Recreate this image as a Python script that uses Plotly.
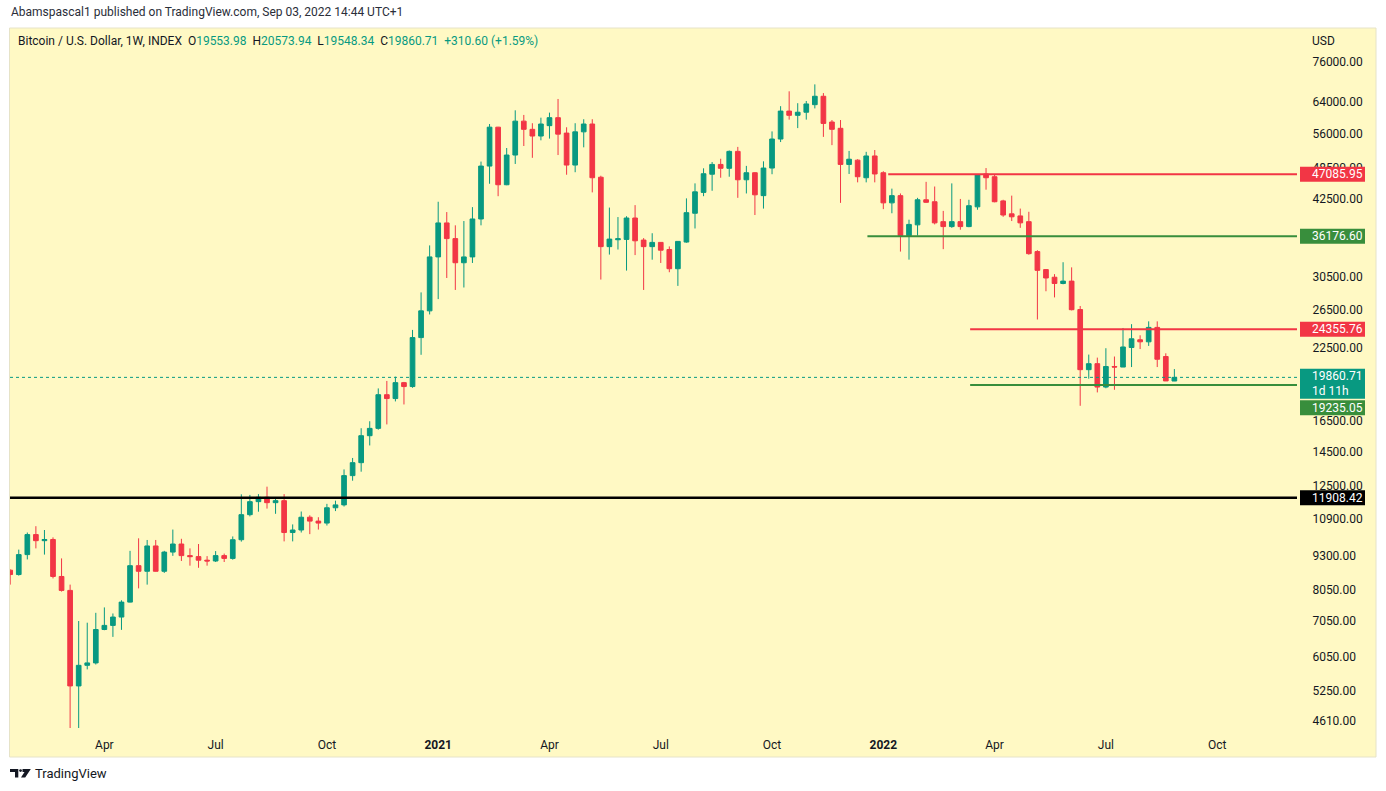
import math
import pandas as pd
import plotly.graph_objects as go

# ---------------- data (weekly BTCUSD) ----------------
week_start = "2020-01-20"
opens = [8750, 8590, 9350, 10180, 9920, 9970, 8520, 8030, 5350, 5840,
         5900, 6800, 6920, 7170, 7640, 8920, 8710, 9700, 8710, 9450,
         9780, 9310, 9270, 9130, 9100, 9310, 9200, 9960, 11080, 11710,
         11930, 11660, 11760, 10270, 10380, 10960, 10780, 10690, 11410, 11550,
         13080, 13820, 15500, 15990, 18450, 18150, 19420, 19100, 23520, 26350,
         33140, 38290, 35820, 32330, 33140, 38940, 48760, 57530, 45040, 51100,
         59020, 57000, 55400, 57900, 59900, 56100, 48970, 56400, 58300, 46500,
         34620, 35650, 35700, 39100, 35600, 34620, 35250, 34200, 31520, 35300,
         39900, 43600, 47100, 49100, 48300, 51900, 46000, 47400, 43000, 48350,
         54700, 61600, 60500, 61300, 63300, 65600, 58800, 57250, 49100, 50000,
         46400, 50900, 47400, 41700, 43000, 36280, 37980, 42250, 41900, 38500,
         37700, 38500, 37700, 41000, 47150, 46600, 42050, 39800, 39450, 38500,
         33900, 31400, 30400, 29600, 29900, 26500, 20520, 21050, 19060, 20800,
         20750, 22550, 23300, 23100, 24560, 21700, 19553.98]
highs = [8780, 9550, 10270, 10550, 10380, 10060, 9200, 8230, 7050, 7000,
         7300, 7470, 7280, 7700, 9500, 10020, 9950, 9950, 9500, 10400,
         10000, 9600, 9780, 9290, 9490, 9390, 10100, 12080, 12050, 12090,
         12480, 11860, 12090, 10630, 11230, 11050, 10960, 11600, 11760, 13430,
         14100, 16000, 16480, 18950, 19560, 19920, 19480, 24300, 28500, 34800,
         41900, 40100, 37900, 38600, 40950, 49700, 58300, 57600, 52650, 61800,
         60600, 58500, 59900, 61200, 64850, 57500, 58500, 59500, 59500, 46800,
         40870, 39260, 39400, 41300, 35900, 36650, 35300, 34650, 35450, 42500,
         45300, 48300, 49600, 50300, 52100, 52900, 48800, 47500, 49750, 56500,
         62900, 67000, 63700, 64300, 69000, 66500, 59300, 59300, 52000, 50200,
         51800, 52200, 47700, 44300, 43400, 38820, 42600, 45600, 44700, 40300,
         45300, 42400, 42250, 47100, 48350, 47000, 42250, 43000, 40700, 40150,
         34100, 31450, 30800, 32400, 31700, 26900, 21880, 21600, 22480, 21700,
         24500, 24900, 23750, 25200, 25200, 22000, 20573.94]
lows = [8230, 8550, 9160, 9600, 9350, 8450, 7990, 3850, 4400, 5740,
        5860, 6780, 6590, 6790, 7630, 8100, 8230, 8700, 8650, 9300,
        9100, 8920, 8840, 8920, 9060, 9060, 9150, 9880, 11000, 11220,
        11370, 11120, 9890, 9890, 10270, 10200, 10400, 10580, 11250, 11470,
        12800, 13300, 14870, 15900, 16260, 17930, 17700, 19000, 21860, 25950,
        27700, 30300, 28800, 29100, 32300, 37900, 45230, 42900, 44950, 49200,
        53100, 50500, 54400, 54800, 51100, 47000, 47500, 52800, 43600, 30100,
        33470, 34200, 31270, 33400, 28800, 32750, 32300, 31050, 29300, 35200,
        37400, 42900, 43900, 46400, 46600, 42600, 43400, 39600, 40700, 47100,
        54000, 59400, 57300, 59400, 62300, 55200, 53300, 41700, 47150, 45500,
        45500, 45500, 40600, 39900, 33900, 32760, 36280, 41700, 38050, 34250,
        37500, 37200, 37600, 40500, 44100, 41800, 39300, 38600, 37500, 33450,
        25400, 28640, 27900, 29500, 26400, 17600, 19750, 18630, 18960, 18840,
        20750, 20750, 22400, 22700, 20750, 19560, 19548.34]
closes = [8590, 9350, 10180, 9920, 9970, 8520, 8030, 5350, 5840, 5900,
          6800, 6920, 7170, 7640, 8920, 8710, 9700, 8710, 9450, 9780,
          9310, 9270, 9130, 9100, 9310, 9200, 9960, 11080, 11710, 11930,
          11660, 11760, 10270, 10380, 10960, 10780, 10690, 11410, 11550, 13080,
          13820, 15500, 15990, 18450, 18150, 19420, 19100, 23520, 26350, 33140,
          38290, 35820, 32330, 33140, 38940, 48760, 57530, 45040, 51100, 59020,
          57000, 55400, 58300, 59900, 55850, 48970, 56400, 58300, 46400, 34620,
          35750, 35800, 39100, 35490, 34620, 35250, 34100, 31520, 35400, 40000,
          43700, 47200, 49100, 48300, 51900, 46000, 47400, 43150, 48350, 54700,
          61600, 60500, 61300, 63500, 65600, 58450, 57000, 49100, 50200, 46600,
          50900, 47150, 41700, 43000, 36280, 38050, 42250, 41800, 38300, 37700,
          38500, 37700, 41200, 46950, 46400, 41900, 39600, 39300, 38300, 33600,
          31300, 30300, 29600, 29900, 26480, 20520, 21050, 19060, 20800, 20750,
          22600, 23400, 23100, 24560, 21450, 19560, 19860.71]
dates = pd.date_range(week_start, periods=len(closes), freq="W-MON")

change_abs = 310.60
change_pct = 1.59

level_prices = [47085.95, 36176.60, 24355.76, 19235.05, 11908.42]
level_starts = ["2022-01-07", "2021-12-21", "2022-03-15", "2022-03-15", "2020-01-19T20:00"]
last_price = 19860.71
time_left = "1d 11h"

y_tick_vals = [4610, 5250, 6050, 7050, 8050, 9300, 10900, 12500, 14500, 16500,
               22500, 26500, 30500, 42500, 48500, 56000, 64000, 76000]
x_tick_vals = ["2020-04-06", "2020-07-06", "2020-10-05", "2021-01-04", "2021-04-05",
               "2021-07-05", "2021-10-04", "2022-01-03", "2022-04-04", "2022-07-04",
               "2022-10-03"]
x_tick_text = ["Apr", "Jul", "Oct", "<b>2021</b>", "Apr", "Jul", "Oct", "<b>2022</b>",
               "Apr", "Jul", "Oct"]

# ---------------- styles ----------------
GREEN = "#089981"
RED = "#F23645"
LGREEN = "#388E3C"
BG = "#FFF9C4"
TXT = "#131722"
FONT = "Roboto"

W, H = 1386, 791
PL, PR, PT, PB = 10, 1297, 28, 728
X_RANGE = ["2020-01-19T20:00", "2022-12-07T07:00"]
lo, hi = math.log10(4474), math.log10(87690)


def xp(px):
    return (px - PL) / (PR - PL)


def yp(py):
    return (PB - py) / (PB - PT)


def price_py(p):
    return PB - (math.log10(p) - lo) / (hi - lo) * (PB - PT)


fig = go.Figure()

level_colors = [RED, LGREEN, RED, LGREEN, "#000000"]
level_widths = [2, 2, 2, 2, 2.5]
for p, s, c, w in zip(level_prices, level_starts, level_colors, level_widths):
    fig.add_trace(go.Scatter(x=[s, X_RANGE[1]], y=[p, p], mode="lines",
                             line=dict(color=c, width=w), hoverinfo="skip",
                             showlegend=False))

fig.add_trace(go.Scatter(x=X_RANGE, y=[last_price, last_price], mode="lines",
                         line=dict(color=GREEN, width=1, dash="dot"),
                         hoverinfo="skip", showlegend=False))

fig.add_trace(go.Candlestick(
    x=dates, open=opens, high=highs, low=lows, close=closes,
    increasing=dict(line=dict(color=GREEN, width=1), fillcolor=GREEN),
    decreasing=dict(line=dict(color=RED, width=1), fillcolor=RED),
    whiskerwidth=0, showlegend=False, hoverinfo="skip"))

shapes = []
annotations = []

# background panel (chart + axes)
shapes.append(dict(type="rect", xref="paper", yref="paper", layer="below",
                   x0=xp(9.5), x1=xp(1376), y0=yp(757), y1=yp(28),
                   fillcolor=BG, line=dict(color="#E6E3C8", width=1)))


def price_label(top_py, height, color, lines, txtcolor="white"):
    shapes.append(dict(type="rect", xref="paper", yref="paper", layer="above",
                       x0=xp(1300), x1=xp(1365), y0=yp(top_py + height), y1=yp(top_py),
                       fillcolor=color, line=dict(width=0)))
    n = len(lines)
    for k, t in enumerate(lines):
        cy = top_py + height * (k + 0.5) / n
        annotations.append(dict(xref="paper", yref="paper", x=xp(1309.5), y=yp(cy),
                                xanchor="left", yanchor="middle", showarrow=False,
                                text=t, font=dict(family=FONT, size=12, color=txtcolor)))


LH = 15
label_colors = [RED, LGREEN, RED, None, "#000000"]
for p, c in zip(level_prices, label_colors):
    if c is None:
        continue
    price_label(price_py(p) - LH / 2, LH, c, [f"{p:.2f}"])

last_top = price_py(last_price) - 8.5
price_label(last_top, 30, GREEN, [f"{last_price:.2f}", time_left])
price_label(last_top + 31.5, LH, LGREEN, [f"{level_prices[3]:.2f}"])

# header texts
annotations.append(dict(xref="paper", yref="paper", x=xp(9), y=yp(12), xanchor="left",
                        yanchor="middle", showarrow=False,
                        text="Abamspascal1 published on TradingView.com, Sep 03, 2022 14:44 UTC+1",
                        font=dict(family=FONT, size=12, color="#2a2e39")))


def g(v):
    return f"<span style='color:{GREEN}'>{v}</span>"


legend_text = ("Bitcoin / U.S. Dollar, 1W, INDEX&nbsp;&nbsp;"
               f"O{g(f'{opens[-1]:.2f}')}&nbsp;&nbsp;H{g(f'{highs[-1]:.2f}')}&nbsp;&nbsp;"
               f"L{g(f'{lows[-1]:.2f}')}&nbsp;&nbsp;C{g(f'{closes[-1]:.2f}')}&nbsp;&nbsp;"
               + g(f"+{change_abs:.2f} (+{change_pct:.2f}%)"))
annotations.append(dict(xref="paper", yref="paper", x=xp(16), y=yp(41), xanchor="left",
                        yanchor="middle", showarrow=False, text=legend_text,
                        font=dict(family=FONT, size=12, color=TXT)))
annotations.append(dict(xref="paper", yref="paper", x=xp(1309.5), y=yp(41), xanchor="left",
                        yanchor="middle", showarrow=False, text="USD",
                        font=dict(family=FONT, size=12, color=TXT)))


# TradingView logo
def path(points):
    return "M " + " L ".join(f"{xp(a):.5f},{yp(b):.5f}" for a, b in points) + " Z"


shapes.append(dict(type="path", xref="paper", yref="paper",
                   path=path([(10, 769), (18.3, 769), (18.3, 777.5), (15, 777.5), (15, 772), (10, 772)]),
                   fillcolor=TXT, line=dict(width=0)))
shapes.append(dict(type="circle", xref="paper", yref="paper",
                   x0=xp(19.2), x1=xp(21.9), y0=yp(772), y1=yp(769.2),
                   fillcolor=TXT, line=dict(width=0)))
shapes.append(dict(type="path", xref="paper", yref="paper",
                   path=path([(22.5, 769), (30.8, 769), (25.2, 777.5), (21, 777.5), (24.5, 772), (22.5, 772)]),
                   fillcolor=TXT, line=dict(width=0)))
annotations.append(dict(xref="paper", yref="paper", x=xp(32.5), y=yp(773.5), xanchor="left",
                        yanchor="middle", showarrow=False, text="TradingView",
                        font=dict(family=FONT, size=13, color=TXT)))

fig.update_layout(
    width=W, height=H,
    margin=dict(l=PL, r=W - PR, t=PT, b=H - PB, pad=0),
    paper_bgcolor="white", plot_bgcolor=BG,
    boxgap=0.22,
    shapes=shapes, annotations=annotations,
    showlegend=False,
    xaxis=dict(type="date", range=X_RANGE, rangeslider=dict(visible=False),
               showgrid=False, zeroline=False, showline=False,
               tickmode="array", tickvals=x_tick_vals, ticktext=x_tick_text,
               ticks="outside", ticklen=6, tickcolor="rgba(0,0,0,0)",
               tickfont=dict(family=FONT, size=12, color=TXT)),
    yaxis=dict(type="log", range=[lo, hi], side="right",
               showgrid=False, zeroline=False, showline=False,
               tickmode="array", tickvals=y_tick_vals,
               ticktext=[f"{v:.2f}" for v in y_tick_vals],
               ticks="outside", ticklen=12, tickcolor="rgba(0,0,0,0)",
               tickfont=dict(family=FONT, size=12, color=TXT)),
)

fig.write_html("out.html", config={"displayModeBar": False},
               post_script="document.body.style.margin='0px';document.body.style.overflow='hidden';")
